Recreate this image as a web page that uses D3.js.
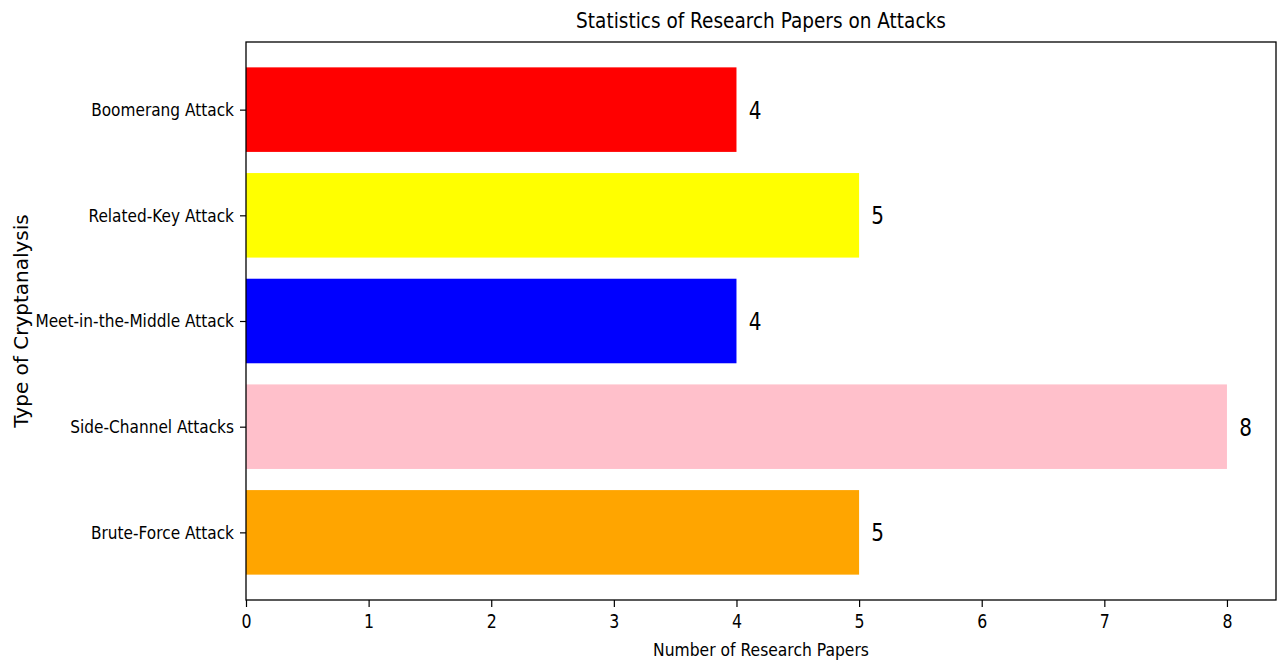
<!DOCTYPE html>
<html>
<head>
<meta charset="utf-8">
<script src="https://cdn.jsdelivr.net/npm/d3@7"></script>
<style>
  html, body { margin: 0; padding: 0; background: #fff; }
  svg { display: block; }
  text { font-family: "DejaVu Sans", sans-serif; fill: #000; }
</style>
</head>
<body>
<svg id="chart" width="1283" height="663"></svg>
<script>
// Attack types, listed bottom to top
const categories = [
  "Brute-Force Attack",
  "Side-Channel Attacks",
  "Meet-in-the-Middle Attack",
  "Related-Key Attack",
  "Boomerang Attack"
];
// Number of papers per attack type
const counts = [5, 8, 4, 5, 4];
const barColors = ["orange", "pink", "blue", "yellow", "red"];
const xTickValues = [0, 1, 2, 3, 4, 5, 6, 7, 8];

const plot = { left: 246, right: 1276, top: 42, bottom: 600 };
// horizontal squeeze applied to the condensed labels
const tickNarrow = 0.83;
const titleNarrow = 0.88;
const xLabelNarrow = 0.865;
const valueNarrow = 0.8;

const svg = d3.select("#chart");

const x = d3.scaleLinear().domain([0, 8.4]).range([plot.left, plot.right]);
const y = d3.scaleLinear().domain([-0.64, 4.64]).range([plot.bottom, plot.top]);
const barH = y(0) - y(0.8);

// bars
svg.append("g").selectAll("rect")
  .data(categories)
  .join("rect")
  .attr("x", x(0))
  .attr("y", (d, i) => y(i + 0.4))
  .attr("width", (d, i) => x(counts[i]) - x(0))
  .attr("height", barH)
  .attr("fill", (d, i) => barColors[i]);

// value labels beside each bar
svg.append("g").selectAll("text")
  .data(categories)
  .join("text")
  .attr("transform", (d, i) => `translate(${x(counts[i] + 0.1)},${y(i)}) scale(${valueNarrow},1)`)
  .attr("dy", "0.36em")
  .attr("font-size", 25)
  .text((d, i) => counts[i]);

// frame
svg.append("rect")
  .attr("x", plot.left).attr("y", plot.top)
  .attr("width", plot.right - plot.left).attr("height", plot.bottom - plot.top)
  .attr("fill", "none").attr("stroke", "#000").attr("stroke-width", 1.3);

// x axis
const xAxis = svg.append("g")
  .attr("transform", `translate(0,${plot.bottom})`)
  .call(d3.axisBottom(x).tickValues(xTickValues).tickFormat(d3.format("d")).tickSize(7).tickPadding(8));
xAxis.select(".domain").remove();
xAxis.selectAll(".tick line").attr("stroke", "#000").attr("stroke-width", 1.2);
xAxis.selectAll(".tick text")
  .attr("font-size", 19)
  .attr("font-family", "DejaVu Sans")
  .attr("fill", "#000")
  .attr("transform", `scale(${tickNarrow},1)`);

// y axis
const yAxis = svg.append("g")
  .attr("transform", `translate(${plot.left},0)`)
  .call(d3.axisLeft(y).tickValues(d3.range(categories.length)).tickFormat(i => categories[i]).tickSize(6).tickPadding(7));
yAxis.select(".domain").remove();
yAxis.selectAll(".tick line").attr("stroke", "#000").attr("stroke-width", 1.2);
yAxis.selectAll(".tick text")
  .attr("font-size", 18.5)
  .attr("font-family", "DejaVu Sans")
  .attr("fill", "#000")
  .attr("x", -12 / tickNarrow)
  .attr("transform", `scale(${tickNarrow},1)`);

// title
svg.append("text")
  .attr("transform", `translate(${(plot.left + plot.right) / 2},28) scale(${titleNarrow},1)`)
  .attr("text-anchor", "middle")
  .attr("font-size", 21)
  .text("Statistics of Research Papers on Attacks");

// axis titles
svg.append("text")
  .attr("transform", `translate(${(plot.left + plot.right) / 2},656) scale(${xLabelNarrow},1)`)
  .attr("text-anchor", "middle")
  .attr("font-size", 18)
  .text("Number of Research Papers");

svg.append("text")
  .attr("transform", `translate(28,${(plot.top + plot.bottom) / 2}) rotate(-90)`)
  .attr("text-anchor", "middle")
  .attr("font-size", 20)
  .text("Type of Cryptanalysis");
</script>
</body>
</html>
